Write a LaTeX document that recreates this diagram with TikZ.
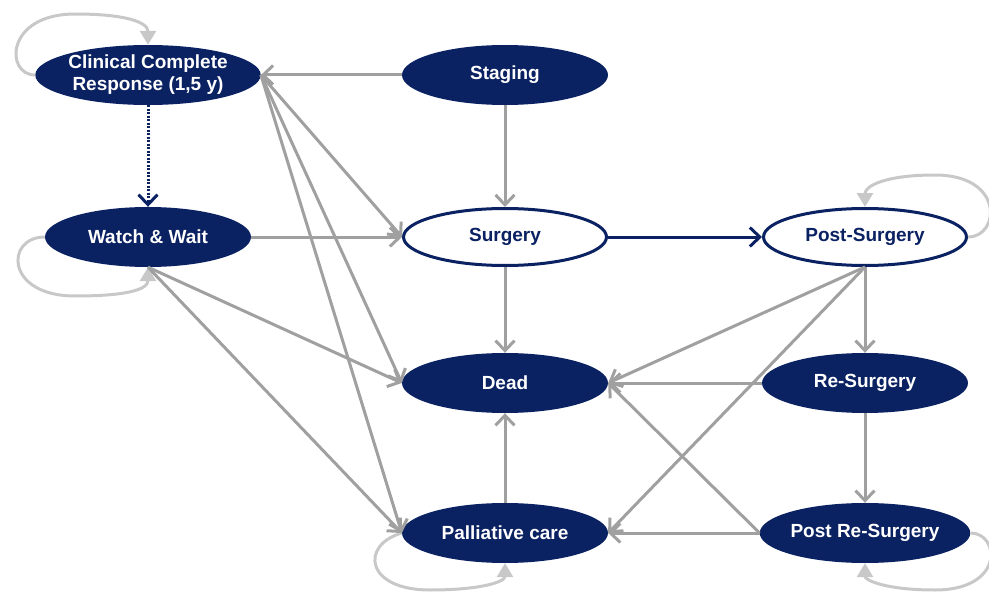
\documentclass[tikz,border=0pt]{standalone}
\usepackage{fontspec}
\setmainfont{Liberation Sans}
\usetikzlibrary{shapes.geometric,arrows.meta}
\definecolor{navy}{RGB}{10,33,98}
\definecolor{edgegray}{RGB}{160,160,160}
\definecolor{loopgray}{RGB}{200,200,200}
\begin{document}
\begin{tikzpicture}[x=1pt,y=-1pt,
    darknode/.style={ellipse,fill=navy,text=white,minimum width=206pt,minimum height=60pt,
        inner sep=0pt,align=center,font=\fontsize{19}{22}\selectfont\bfseries},
    lightnode/.style={darknode,fill=white,draw=navy,line width=3pt,text=navy,
        minimum width=203pt,minimum height=57pt},
    flow/.style={draw=edgegray,line width=3pt,-{Straight Barb[length=10pt,width=19pt]}},
    selfloop/.style={draw=loopgray,line width=3pt,-{Triangle[length=14pt,width=16pt]}}]
    \useasboundingbox (0,0) rectangle (989,594);
    % states
    \node[darknode] (ccr) at (148,75) {Clinical Complete\\Response (1,5 y)};
    \node[darknode] (ww) at (148,237) {Watch \& Wait};
    \node[darknode] (stg) at (505,75) {Staging};
    \node[lightnode] (srg) at (505,237) {Surgery};
    \node[darknode] (dead) at (505,383) {Dead};
    \node[darknode] (pal) at (505,533) {Palliative care};
    \node[lightnode] (post) at (865,237) {Post-Surgery};
    \node[darknode] (resrg) at (865,383) {Re-Surgery};
    \node[darknode] (postre) at (865,533) {Post Re-Surgery};
    % self loops
    \draw[selfloop] (ccr.west) .. controls (5,75) and (5,14) .. (75,14)
        .. controls (125,14) and (148,22) .. (ccr.north);
    \draw[selfloop] (ww.west) .. controls (5,237) and (5,296) .. (75,296)
        .. controls (125,296) and (148,290) .. (ww.south);
    \draw[selfloop] (pal.west) .. controls (360,545) and (365,590) .. (430,590)
        .. controls (480,590) and (505,582) .. (pal.south);
    \draw[selfloop] (post.east) .. controls (1000,237) and (1005,175) .. (935,175)
        .. controls (885,175) and (865,186) .. (post.north);
    \draw[selfloop] (postre.east) .. controls (1000,533) and (1005,590) .. (935,590)
        .. controls (885,590) and (865,580) .. (postre.south);
    % transitions
    \draw[flow] (stg.west) -- (ccr.east);
    \draw[flow] (stg.south) -- (srg.north);
    \draw[flow,draw=navy,dash pattern=on 2pt off 1.5pt] (ccr.south) -- (ww.north);
    \draw[flow] (ccr.east) -- (srg.west);
    \draw[flow] (ccr.east) -- (dead.west);
    \draw[flow] (ccr.east) -- (pal.west);
    \draw[flow] (ww.east) -- (srg.west);
    \draw[flow] (ww.south) -- (dead.west);
    \draw[flow] (ww.south) -- (pal.west);
    \draw[flow,draw=navy] (srg.east) -- (post.west);
    \draw[flow] (srg.south) -- (dead.north);
    \draw[flow] (pal.north) -- (dead.south);
    \draw[flow] (post.south) -- (resrg.north);
    \draw[flow] (post.south) -- (dead.east);
    \draw[flow] (post.south) -- (pal.east);
    \draw[flow] (resrg.west) -- (dead.east);
    \draw[flow] (resrg.south) -- (postre.north);
    \draw[flow] (postre.west) -- (pal.east);
    \draw[flow] (postre.west) -- (dead.east);
\end{tikzpicture}
\end{document}
